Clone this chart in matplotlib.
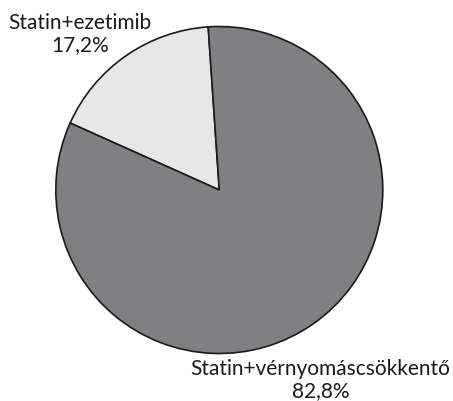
import matplotlib
matplotlib.use("Agg")
import matplotlib.pyplot as plt

categories = ["Statin+ezetimib", "Statin+vérnyomáscsökkentő"]
shares = [17.2, 82.8]
share_labels = ["17,2%", "82,8%"]
colors = ["#e6e7e6", "#808083"]

W, H = 453, 401
fig = plt.figure(figsize=(W / 100, H / 100), dpi=100)
ax = fig.add_axes([0, 0, 1, 1])

cx, cy, r = 219.3, 190.0, 163.5  # pie centre and radius in pixels
ax.axis("off")

ax.pie(shares, colors=colors, startangle=93.9, counterclock=True,
       radius=1.0, center=(0, 0),
       wedgeprops=dict(edgecolor="#1a1a1a", linewidth=1.2))
ax.set_aspect("auto")
ax.set_xlim(-cx / r, (W - cx) / r)
ax.set_ylim(-(H - cy) / r, cy / r)

font = dict(family="Lato", fontsize=15, color="#1a1a1a", ha="center", va="center",
            linespacing=1.15)
fig.text(80 / W, 1 - 34 / H, f"{categories[0]}\n{share_labels[0]}", **font)
fig.text(320.5 / W, 1 - 380 / H, f"{categories[1]}\n{share_labels[1]}", **font)

fig.savefig("out.png", dpi=100)
